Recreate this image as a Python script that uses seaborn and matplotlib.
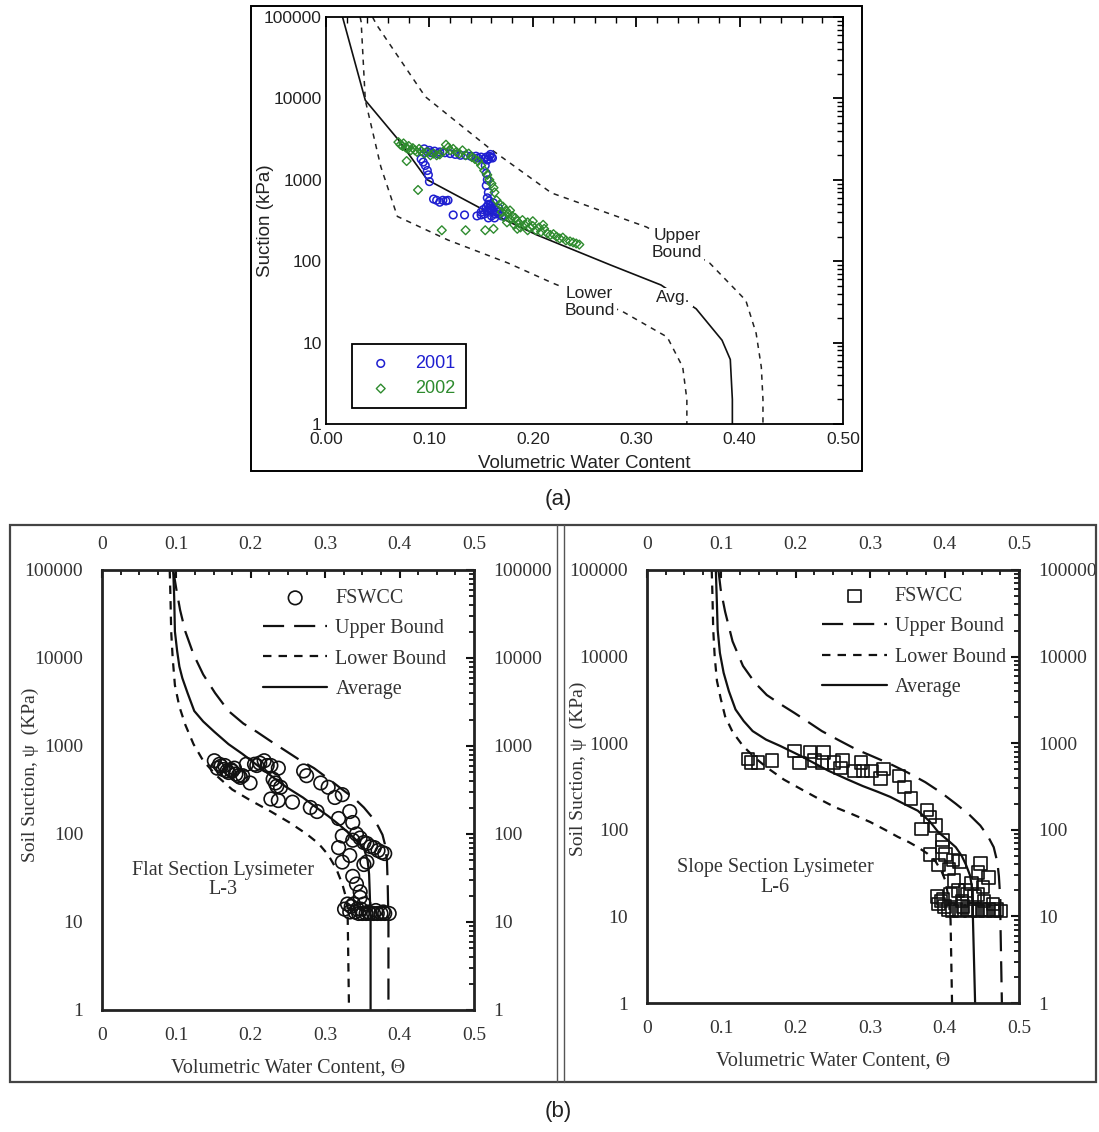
import numpy as np
import pandas as pd
import seaborn as sns
import matplotlib.pyplot as plt
from matplotlib.patches import Rectangle
from matplotlib.lines import Line2D
from matplotlib.ticker import MultipleLocator, LogLocator, FixedLocator, FixedFormatter, NullFormatter

# ---------------- (a) field data ----------------
a_avg_theta = [0.016, 0.038, 0.070, 0.098, 0.152, 0.204, 0.275, 0.324, 0.358, 0.383, 0.391, 0.393, 0.393]
a_avg_psi = [100000, 9500, 3100, 1000, 430, 210, 90, 51, 26, 10.7, 6.2, 2, 1]
a_up_theta = [0.045, 0.049, 0.096, 0.157, 0.218, 0.310, 0.371, 0.406, 0.416, 0.421, 0.4226, 0.4226]
a_up_psi = [100000, 80000, 10500, 2500, 690, 263, 95, 33, 13, 5, 2, 1]
a_lo_theta = [0.033, 0.034, 0.038, 0.053, 0.069, 0.118, 0.176, 0.219, 0.287, 0.330, 0.345, 0.349, 0.349]
a_lo_psi = [100000, 87000, 9500, 1450, 355, 182, 95, 54, 24, 11.7, 5, 2, 1]

y2001_theta = [0.095, 0.100, 0.105, 0.110, 0.115, 0.120, 0.125, 0.130, 0.135, 0.140, 0.145, 0.150,
               0.155, 0.158, 0.160, 0.157, 0.153, 0.147, 0.098, 0.102, 0.108, 0.159, 0.161, 0.156,
               0.092, 0.094, 0.096, 0.098, 0.099, 0.100,
               0.154, 0.155, 0.156, 0.155, 0.157, 0.156, 0.158,
               0.150, 0.153, 0.156, 0.158, 0.160, 0.162, 0.165, 0.168, 0.170, 0.160, 0.157,
               0.163, 0.166, 0.159, 0.162, 0.155, 0.152, 0.167, 0.158, 0.161, 0.164, 0.157, 0.160,
               0.104, 0.107, 0.110, 0.113, 0.116, 0.118, 0.123, 0.134, 0.146, 0.150]
y2001_psi = [2400, 2300, 2250, 2200, 2150, 2100, 2050, 2000, 2000, 1950, 1950, 1900,
             1900, 1950, 1900, 1800, 1800, 1850, 2200, 2150, 2100, 2050, 1850, 1750,
             1800, 1650, 1500, 1300, 1150, 950,
             1500, 1200, 1000, 850, 700, 600, 550,
             400, 380, 420, 450, 480, 450, 420, 380, 360, 360, 340,
             340, 400, 500, 520, 460, 430, 450, 400, 410, 380, 500, 440,
             580, 560, 530, 560, 550, 560, 370, 370, 360, 370]

y2002_theta = [0.070, 0.072, 0.074, 0.075, 0.077, 0.079, 0.080, 0.082, 0.084, 0.086, 0.088, 0.090,
               0.092, 0.095, 0.098, 0.101, 0.104, 0.107, 0.110, 0.113, 0.116, 0.118, 0.120, 0.123,
               0.126, 0.129, 0.132, 0.135, 0.138, 0.141, 0.144, 0.147, 0.150, 0.153, 0.156, 0.158,
               0.160, 0.162, 0.163, 0.078, 0.089,
               0.112, 0.135, 0.154, 0.162,
               0.165, 0.168, 0.171, 0.174, 0.176, 0.178, 0.180, 0.183, 0.185, 0.187, 0.190, 0.192,
               0.195, 0.197, 0.200, 0.203, 0.206, 0.208, 0.211, 0.214, 0.217, 0.220, 0.223, 0.226,
               0.229, 0.232, 0.236, 0.239, 0.242, 0.245, 0.175, 0.182, 0.188, 0.170, 0.172, 0.178,
               0.185, 0.195, 0.200, 0.210]
y2002_psi = [2900, 2700, 2600, 2800, 2500, 2400, 2600, 2300, 2450, 2300, 2200, 2400,
             2250, 2100, 2200, 2000, 2100, 2000, 2050, 2200, 2700, 2500, 2300, 2400,
             2200, 2100, 2300, 2000, 2100, 1900, 1800, 1700, 1500, 1300, 1150, 1000,
             900, 800, 700, 1700, 750,
             240, 240, 240, 250,
             560, 500, 470, 420, 380, 330, 360, 340, 310, 290, 320, 280,
             300, 260, 270, 240, 260, 230, 250, 220, 210, 215, 200, 190,
             195, 180, 175, 170, 165, 160, 300, 280, 260, 400, 350, 420,
             250, 240, 310, 280]

# ---------------- (b) lysimeter data ----------------
l3_avg_theta = [0.0957, 0.097, 0.098, 0.101, 0.104, 0.108, 0.115, 0.124, 0.136, 0.151, 0.170, 0.189,
                0.208, 0.227, 0.248, 0.270, 0.288, 0.304, 0.320, 0.333, 0.344, 0.352, 0.357, 0.359,
                0.360, 0.361, 0.361]
l3_avg_psi = [100000, 50000, 20000, 12000, 8000, 5900, 4000, 2500, 1900, 1450, 1050, 810,
              610, 460, 340, 260, 200, 160, 125, 100, 82, 69, 50, 35,
              20, 10.5, 1]
l3_up_theta = [0.0957, 0.100, 0.105, 0.112, 0.123, 0.136, 0.152, 0.170, 0.190, 0.208, 0.227, 0.246,
               0.265, 0.285, 0.305, 0.323, 0.340, 0.352, 0.363, 0.371, 0.377, 0.380, 0.383, 0.384,
               0.385, 0.385]
l3_up_psi = [100000, 60000, 35000, 20000, 11000, 6500, 4000, 2500, 1800, 1450, 1130, 890,
             700, 560, 420, 320, 250, 200, 155, 123, 98, 78, 50, 27,
             10, 1]
l3_lo_theta = [0.091, 0.092, 0.093, 0.095, 0.098, 0.104, 0.112, 0.123, 0.136, 0.154, 0.175, 0.200,
               0.227, 0.252, 0.275, 0.291, 0.304, 0.315, 0.323, 0.328, 0.330, 0.332]
l3_lo_psi = [100000, 50000, 20000, 10000, 4900, 2800, 1740, 1050, 680, 460, 320, 240,
             180, 135, 100, 78, 58, 40, 27, 19, 15.5, 1]
l3_obs_theta = [0.151, 0.155, 0.158, 0.160, 0.163, 0.165, 0.168, 0.170, 0.173, 0.175, 0.178, 0.180,
                0.183, 0.186, 0.189, 0.194, 0.199, 0.205, 0.208, 0.212, 0.218, 0.222, 0.227, 0.230,
                0.233, 0.237, 0.235, 0.240, 0.227, 0.237, 0.256, 0.271, 0.275, 0.280, 0.289, 0.294,
                0.304, 0.313, 0.318, 0.323, 0.323, 0.333, 0.337, 0.342, 0.337, 0.347, 0.352, 0.356,
                0.361, 0.366, 0.371, 0.376, 0.380, 0.318, 0.323, 0.333, 0.337, 0.342, 0.347, 0.352,
                0.356, 0.347, 0.352, 0.330, 0.326, 0.335, 0.340, 0.345, 0.350, 0.355, 0.360, 0.365,
                0.370, 0.375, 0.380, 0.386, 0.333, 0.338, 0.343, 0.348, 0.358, 0.368, 0.378]
l3_obs_psi = [680, 560, 620, 590, 540, 600, 520, 500, 540, 520, 560, 480,
              460, 440, 460, 620, 380, 620, 600, 640, 680, 600, 600, 420,
              380, 560, 350, 340, 250, 240, 230, 520, 460, 200, 180, 380,
              340, 260, 150, 95, 280, 180, 135, 100, 85, 90, 80, 78,
              72, 70, 65, 62, 60, 70, 48, 57, 33, 27, 22, 45,
              48, 19, 16, 16, 14, 15, 13, 12.5, 12.5, 12.5, 12.5, 12.5,
              12.5, 12.5, 12.5, 12.5, 13, 16, 14, 14, 13, 13.5, 13]

l6_avg_theta = [0.0925, 0.094, 0.095, 0.098, 0.103, 0.110, 0.119, 0.130, 0.142, 0.160, 0.179, 0.207,
                0.244, 0.270, 0.290, 0.310, 0.327, 0.345, 0.364, 0.380, 0.392, 0.405, 0.415, 0.423,
                0.429, 0.434, 0.436, 0.438, 0.438, 0.441]
l6_avg_psi = [100000, 40000, 20400, 11000, 6500, 4000, 2450, 1800, 1380, 1100, 930, 710,
              480, 380, 320, 275, 240, 200, 166, 125, 93, 75, 63, 50,
              39, 30, 24, 15, 10, 1]
l6_up_theta = [0.096, 0.099, 0.105, 0.115, 0.129, 0.145, 0.161, 0.180, 0.198, 0.217, 0.235, 0.258,
               0.281, 0.304, 0.327, 0.350, 0.374, 0.395, 0.415, 0.433, 0.448, 0.458, 0.466, 0.471,
               0.473, 0.475, 0.475, 0.477]
l6_up_psi = [100000, 60000, 33000, 15000, 7800, 5000, 3600, 2800, 2240, 1750, 1380, 1080,
             850, 700, 575, 460, 355, 270, 200, 150, 112, 85, 63, 42,
             29, 15, 9.1, 1]
l6_lo_theta = [0.087, 0.088, 0.089, 0.091, 0.094, 0.099, 0.105, 0.115, 0.129, 0.145, 0.161, 0.184,
               0.207, 0.230, 0.253, 0.277, 0.300, 0.320, 0.337, 0.352, 0.364, 0.377, 0.388, 0.396,
               0.401, 0.405, 0.408, 0.410]
l6_lo_psi = [100000, 50000, 20400, 10000, 5250, 3300, 2040, 1350, 930, 680, 525, 380,
             295, 230, 182, 150, 123, 100, 83, 72, 63, 53, 43, 33,
             26, 17, 9.1, 1]
l6_obs_theta = [0.136, 0.140, 0.149, 0.168, 0.198, 0.205, 0.219, 0.225, 0.237, 0.235, 0.251, 0.263,
                0.260, 0.279, 0.288, 0.290, 0.302, 0.314, 0.318, 0.339, 0.346, 0.355, 0.376, 0.380,
                0.388, 0.369, 0.397, 0.397, 0.380, 0.401, 0.392, 0.411, 0.406, 0.420, 0.413, 0.418,
                0.448, 0.445, 0.459, 0.436, 0.452, 0.430, 0.440, 0.390, 0.395, 0.392, 0.400, 0.405,
                0.410, 0.415, 0.420, 0.425, 0.430, 0.435, 0.440, 0.445, 0.450, 0.455, 0.460, 0.465,
                0.470, 0.475, 0.398, 0.423, 0.453, 0.465, 0.408, 0.428, 0.445]
l6_obs_psi = [660, 600, 600, 630, 810, 590, 790, 630, 780, 600, 600, 630,
              520, 480, 600, 480, 480, 390, 500, 420, 310, 230, 170, 140,
              112, 102, 76, 63, 52, 52, 39, 45, 35, 43, 26, 20,
              41, 32, 28, 24, 22, 18, 17, 17, 15, 14, 13, 12,
              11.5, 12, 11.5, 13, 12, 11.5, 12, 11.5, 12, 11.5, 12, 11.5,
              12, 11.5, 16, 15, 15, 14, 18, 20, 18]

sns.set_theme(style="white")
plt.rcParams['font.family'] = ['Liberation Sans', 'DejaVu Sans']

fig = plt.figure(figsize=(10.99, 11.32), dpi=100)
W, H = 1099, 1132

def px_axes(l, t, r, b):
    return fig.add_axes([l / W, 1 - b / H, (r - l) / W, (b - t) / H])

dark = '#222222'
decades = [1, 10, 100, 1000, 10000, 100000]
decade_labels = ['1', '10', '100', '1000', '10000', '100000']

# ---------------- panel (a) ----------------
ax = px_axes(326, 17, 843, 424)
ax.set_yscale('log')
sns.lineplot(x=a_avg_theta, y=a_avg_psi, sort=False, estimator=None, color='#111111', lw=1.2, ax=ax)
sns.lineplot(x=a_up_theta, y=a_up_psi, sort=False, estimator=None, color='#222222', lw=1.1,
             linestyle=(0, (3.5, 3.5)), ax=ax)
sns.lineplot(x=a_lo_theta, y=a_lo_psi, sort=False, estimator=None, color='#222222', lw=1.1,
             linestyle=(0, (3.5, 3.5)), ax=ax)
sns.scatterplot(x=y2001_theta, y=y2001_psi, marker='o', s=30, facecolor='none', edgecolor='#1f1fd0',
                linewidth=1.1, ax=ax, label='2001', zorder=3)
sns.scatterplot(x=y2002_theta, y=y2002_psi, marker='D', s=20, facecolor='none', edgecolor='#2e8b2e',
                linewidth=1.0, ax=ax, label='2002', zorder=4)
ax.set_xlim(0, 0.5)
ax.set_ylim(1, 100000)
ax.xaxis.set_major_locator(MultipleLocator(0.1))
ax.xaxis.set_minor_locator(MultipleLocator(0.02))
ax.xaxis.set_major_formatter(plt.FormatStrFormatter('%.2f'))
ax.yaxis.set_major_locator(FixedLocator(decades))
ax.yaxis.set_major_formatter(FixedFormatter(decade_labels))
ax.yaxis.set_minor_locator(LogLocator(base=10, subs=np.arange(2, 10)))
ax.yaxis.set_minor_formatter(NullFormatter())
ax.tick_params(which='both', direction='in', top=True, right=True, colors='black', labelcolor=dark,
               labelsize=12.5)
ax.tick_params(which='major', length=7, width=1.3)
ax.tick_params(which='minor', length=4, width=1.0)
ax.tick_params(axis='x', pad=6)
ax.tick_params(axis='y', pad=3)
for sp in ax.spines.values():
    sp.set_color('black')
    sp.set_linewidth(1.3)
ax.set_xlabel('Volumetric Water Content', fontsize=13.5, color=dark)
ax.set_ylabel('Suction (kPa)', fontsize=13.5, color=dark)
ax.xaxis.set_label_coords(0.5, -0.076)
ax.yaxis.set_label_coords(-0.10, 0.5)
tb = dict(fc='white', ec='none', pad=1.5)
ax.text(0.3395, 162, 'Upper\nBound', fontsize=12.5, color=dark, ha='center', va='center', bbox=tb, linespacing=1.15)
ax.text(0.255, 31.6, 'Lower\nBound', fontsize=12.5, color=dark, ha='center', va='center', bbox=tb, linespacing=1.15)
ax.text(0.336, 36, 'Avg.', fontsize=12.5, color=dark, ha='center', va='center', bbox=tb)
leg = ax.legend(loc='lower left', bbox_to_anchor=(0.05, 0.039), frameon=True, fancybox=False,
                edgecolor='black', framealpha=1, fontsize=13, handlelength=2.0, handletextpad=0.9,
                borderpad=0.6, labelspacing=0.45, borderaxespad=0)
leg.get_frame().set_linewidth(1.3)
leg.texts[0].set_color('#1f1fd0')
leg.texts[1].set_color('#2e8b2e')

# ---------------- panel (b) ----------------
plt.rcParams['font.family'] = ['Liberation Serif', 'DejaVu Serif']
gray = '#333333'

def lysimeter(ax, avg, up, lo, obs, marker, ms, title, lx, leg_xy):
    ax.set_yscale('log')
    sns.scatterplot(x=obs[0], y=obs[1], marker=marker, s=ms, facecolor='none', edgecolor='#111111',
                    linewidth=1.2, ax=ax, label='FSWCC', zorder=3)
    sns.lineplot(x=up[0], y=up[1], sort=False, estimator=None, color='#111111', lw=1.6,
                 linestyle=(0, (9.5, 4.5)), ax=ax, label='Upper Bound')
    sns.lineplot(x=lo[0], y=lo[1], sort=False, estimator=None, color='#111111', lw=1.6,
                 linestyle=(0, (3.8, 3.2)), ax=ax, label='Lower Bound')
    sns.lineplot(x=avg[0], y=avg[1], sort=False, estimator=None, color='#111111', lw=1.6,
                 ax=ax, label='Average')
    ax.set_xlim(0, 0.5)
    ax.set_ylim(1, 100000)
    ax.xaxis.set_major_locator(FixedLocator([0, 0.1, 0.2, 0.3, 0.4, 0.5]))
    ax.xaxis.set_major_formatter(FixedFormatter(['0', '0.1', '0.2', '0.3', '0.4', '0.5']))
    ax.xaxis.set_minor_locator(MultipleLocator(0.025))
    ax.yaxis.set_major_locator(FixedLocator(decades))
    ax.yaxis.set_major_formatter(FixedFormatter(decade_labels))
    ax.yaxis.set_minor_locator(LogLocator(base=10, subs=np.arange(2, 10)))
    ax.yaxis.set_minor_formatter(NullFormatter())
    ax.tick_params(which='both', direction='in', top=True, right=True, labeltop=True, labelright=True,
                   colors='#111111', labelcolor=gray, labelsize=14)
    ax.tick_params(which='major', length=6, width=1.5)
    ax.tick_params(which='minor', length=3.5, width=1.3)
    ax.tick_params(axis='x', pad=12)
    ax.tick_params(axis='y', pad=13.5)
    for sp in ax.spines.values():
        sp.set_color('#222222')
        sp.set_linewidth(2)
    ax.set_xlabel('Volumetric Water Content, \u0398', fontsize=14.5, color=gray)
    ax.set_ylabel('Soil Suction, \u03c8  (KPa)', fontsize=14, color=gray)
    ax.text(lx[0], lx[1], title, fontsize=14.5, color=gray, ha='center', va='center', linespacing=1.05)
    h, l = ax.get_legend_handles_labels()
    order = ['FSWCC', 'Upper Bound', 'Lower Bound', 'Average']
    hh = [h[l.index(k)] for k in order]
    ax.legend(hh, order, loc='upper left', bbox_to_anchor=leg_xy, frameon=False, fontsize=14.5,
              handlelength=3.2, handletextpad=0.4, labelspacing=0.55, borderaxespad=0,
              labelcolor=gray)

axl = px_axes(102, 570, 474, 1010)
lysimeter(axl, (l3_avg_theta, l3_avg_psi), (l3_up_theta, l3_up_psi), (l3_lo_theta, l3_lo_psi),
          (l3_obs_theta, l3_obs_psi), 'o', 95, 'Flat Section Lysimeter\nL-3', (0.163, 30), (0.411, 0.975))
axl.xaxis.set_label_coords(0.5, -0.111)
axl.yaxis.set_label_coords(-0.17, 0.534)

axr = px_axes(647, 570, 1019, 1003)
lysimeter(axr, (l6_avg_theta, l6_avg_psi), (l6_up_theta, l6_up_psi), (l6_lo_theta, l6_lo_psi),
          (l6_obs_theta, l6_obs_psi), 's', 80, 'Slope Section Lysimeter\nL-6', (0.172, 28), (0.449, 0.979))
axr.xaxis.set_label_coords(0.5, -0.113)
axr.yaxis.set_label_coords(-0.162, 0.54)

# ---------------- frames and captions ----------------
def fig_rect(l, t, r, b, lw, color):
    fig.add_artist(Rectangle((l / W, 1 - b / H), (r - l) / W, (b - t) / H, transform=fig.transFigure,
                             fill=False, lw=lw, ec=color))

def fig_vline(x, t, b, lw, color):
    fig.add_artist(Line2D([x / W, x / W], [1 - t / H, 1 - b / H], transform=fig.transFigure, lw=lw, color=color))

fig_rect(251, 6, 862, 471, 1.4, 'black')
fig_rect(10, 525, 1096, 1082, 1.6, '#444444')
fig_vline(557, 525, 1082, 1.0, '#555555')
fig_vline(564, 525, 1082, 1.0, '#555555')
fig.text(558 / W, 1 - 500 / H, '(a)', fontsize=16, ha='center', va='center', family=['Liberation Sans'], color=dark)
fig.text(558 / W, 1 - 1112 / H, '(b)', fontsize=16, ha='center', va='center', family=['Liberation Sans'], color=dark)

fig.savefig('out.png', dpi=100)
